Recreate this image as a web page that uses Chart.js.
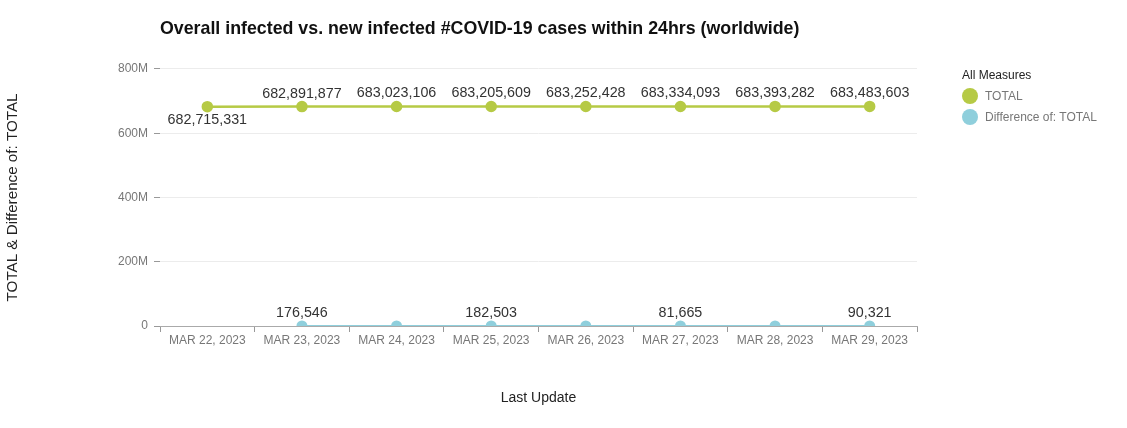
<!DOCTYPE html>
<html lang="en">
<head>
    <meta charset="UTF-8">
    <script src="https://cdn.jsdelivr.net/npm/chart.js"></script>
    <title>COVID-19 cases</title>
    <style>
    body {
        margin: 0;
        background: #ffffff;
        font-family: "Liberation Sans", Arial, sans-serif;
    }
    #wrap {
        position: relative;
        width: 1127px;
        height: 428px;
    }
    #legend {
        position: absolute;
        left: 962px;
        top: 68px;
        font-size: 12px;
    }
    #legend .head {
        color: #222;
        margin-bottom: 3px;
    }
    #legend .item {
        display: flex;
        align-items: center;
        color: #777;
        height: 21px;
    }
    #legend .dot {
        width: 16px;
        height: 16px;
        border-radius: 50%;
        margin-right: 7px;
    }
</style>
</head>
<body>
<div id="wrap">
    <canvas id="chart" width="1127" height="428"></canvas>
    <div id="legend">
        <div class="head">All Measures</div>
    </div>
</div>

<script>
    // values
    const categories = ['MAR 22, 2023', 'MAR 23, 2023', 'MAR 24, 2023', 'MAR 25, 2023',
                        'MAR 26, 2023', 'MAR 27, 2023', 'MAR 28, 2023', 'MAR 29, 2023'];
    const totalValues = [682715331, 682891877, 683023106, 683205609,
                         683252428, 683334093, 683393282, 683483603];
    const diffValues = [null, 176546, 131229, 182503, 46819, 81665, 59189, 90321];
    const yTicks = [0, 200000000, 400000000, 600000000, 800000000];

    const seriesNames = ['TOTAL', 'Difference of: TOTAL'];
    const green = '#b6ca45';
    const blue = '#8fcfdc';

    // legend as html
    const legendBox = document.getElementById('legend');
    [green, blue].forEach((c, i) => {
        const row = document.createElement('div');
        row.className = 'item';
        row.innerHTML = '<span class="dot" style="background:' + c + '"></span>' + seriesNames[i];
        legendBox.appendChild(row);
    });

    // value labels above / below points
    const valueLabels = {
        id: 'valueLabels',
        afterDatasetsDraw(chart) {
            const ctx = chart.ctx;
            ctx.save();
            ctx.font = '14.3px "Liberation Sans", Arial, sans-serif';
            ctx.fillStyle = '#333';
            ctx.textAlign = 'center';
            ctx.textBaseline = 'middle';
            chart.data.datasets.forEach((ds, di) => {
                const meta = chart.getDatasetMeta(di);
                meta.data.forEach((pt, i) => {
                    const v = ds.data[i];
                    if (v === null) return;
                    if (di === 1 && i % 2 === 0) return;
                    let dy = -13;
                    if (di === 0 && i === 0) dy = 13;
                    ctx.fillText(v.toLocaleString('en-US'), pt.x, pt.y + dy);
                });
            });
            ctx.restore();
        }
    };

    const ctx = document.getElementById('chart').getContext('2d');
    Chart.defaults.font.family = '"Liberation Sans", Arial, sans-serif';

    const chart = new Chart(ctx, {
        type: 'line',
        data: {
            labels: categories,
            datasets: [{
                label: seriesNames[0],
                data: totalValues,
                borderColor: green,
                backgroundColor: green,
                borderWidth: 2.5,
                pointRadius: 4.5,
                pointHoverRadius: 4.5
            }, {
                label: seriesNames[1],
                data: diffValues,
                borderColor: blue,
                backgroundColor: blue,
                borderWidth: 2,
                pointRadius: 4.5,
                pointHoverRadius: 4.5,
                clip: 0
            }]
        },
        options: {
            responsive: false,
            animation: false,
            layout: { padding: { left: 0, right: 210, top: 0, bottom: 0 } },
            plugins: {
                legend: { display: false },
                tooltip: { enabled: false },
                title: {
                    display: true,
                    text: 'Overall infected vs. new infected #COVID-19 cases within 24hrs (worldwide)',
                    align: 'start',
                    fullSize: false,
                    color: '#111',
                    font: { size: 17.8, weight: 'bold' },
                    padding: { top: 18, bottom: 29.6 }
                }
            },
            scales: {
                x: {
                    offset: true,
                    grid: {
                        offset: true,
                        drawOnChartArea: false,
                        tickLength: 6,
                        color: '#999'
                    },
                    border: { color: '#aaa' },
                    ticks: { color: '#777', font: { size: 12 }, padding: 1, maxRotation: 0 },
                    title: {
                        display: true,
                        text: 'Last Update',
                        color: '#222',
                        font: { size: 14 },
                        padding: { top: 0, bottom: 21 }
                    },
                    afterFit(scale) { scale.height = 102; }
                },
                y: {
                    min: 0,
                    max: 800000000,
                    afterBuildTicks(scale) {
                        scale.ticks = yTicks.map(v => ({ value: v }));
                    },
                    grid: {
                        color: '#ececec',
                        tickColor: '#999',
                        tickLength: 6
                    },
                    border: { display: false },
                    ticks: {
                        color: '#777',
                        font: { size: 12 },
                        padding: 6,
                        callback: v => v === 0 ? '0' : (v / 1000000) + 'M'
                    },
                    title: {
                        display: true,
                        text: 'TOTAL & Difference of: TOTAL',
                        color: '#222',
                        font: { size: 15.2 },
                        padding: { top: 4, bottom: 0 }
                    },
                    afterFit(scale) { scale.width = 160; }
                }
            }
        },
        plugins: [valueLabels]
    });
</script>
</body>
</html>
